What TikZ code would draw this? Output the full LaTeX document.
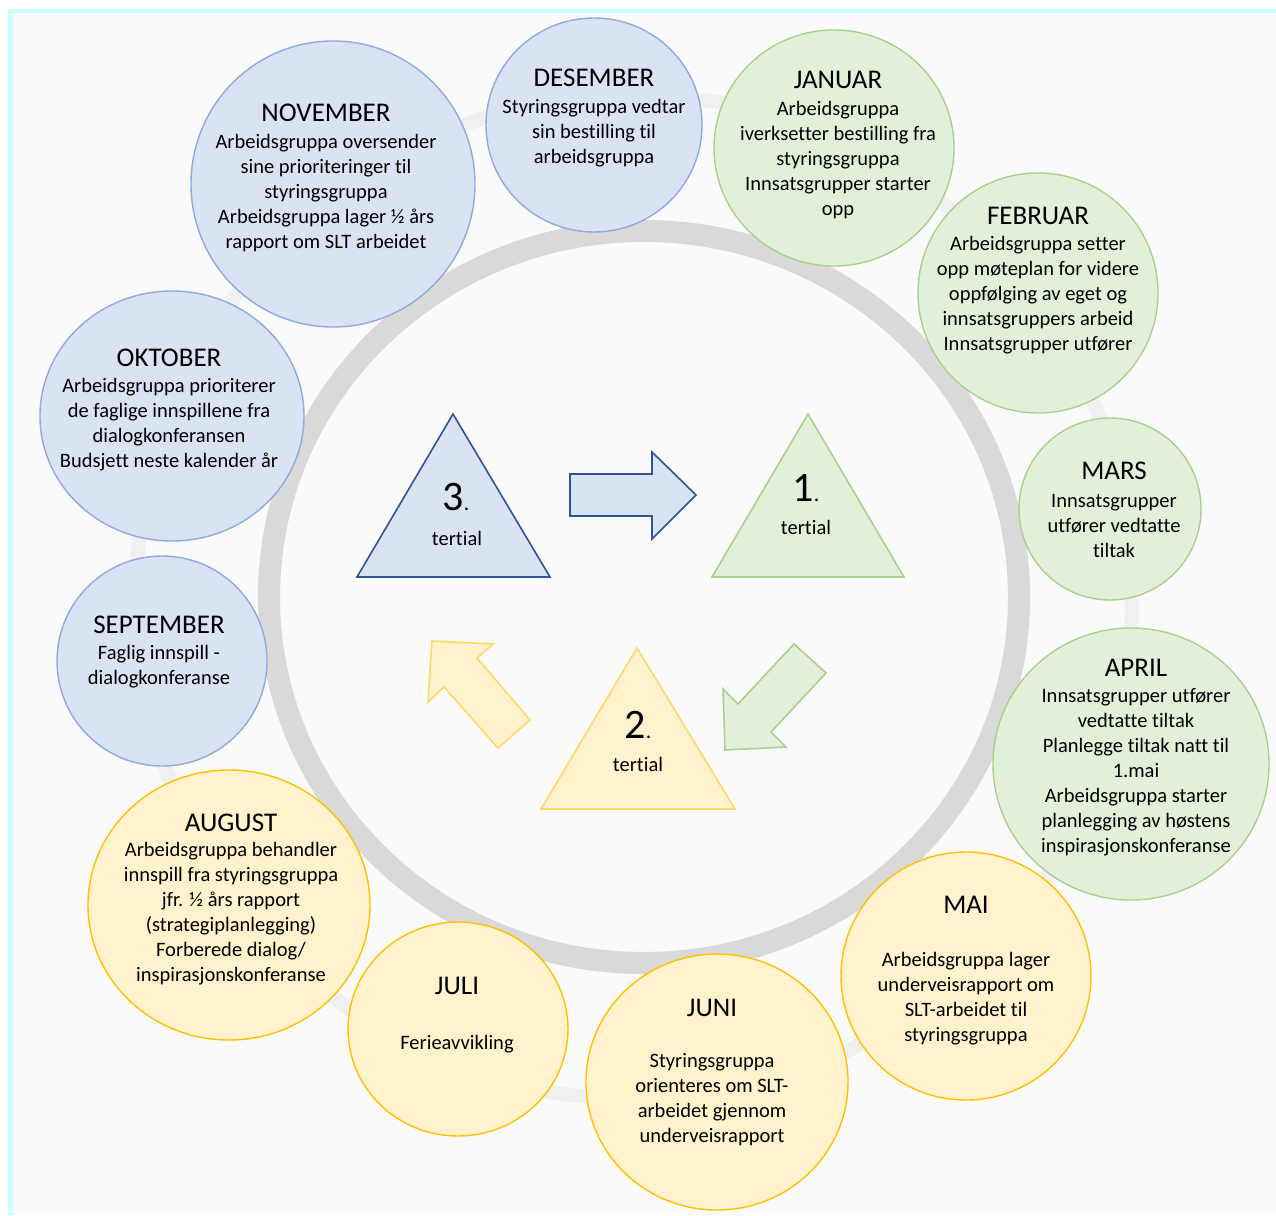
\documentclass[tikz,border=0pt]{standalone}
\usepackage{fontspec}
\setmainfont{Carlito}[Ligatures={NoCommon,NoRare}]
\usetikzlibrary{shapes.geometric}
\definecolor{bfill}{HTML}{DAE3F3}
\definecolor{bline}{HTML}{8FAADC}
\definecolor{bdark}{HTML}{2F5597}
\definecolor{gfill}{HTML}{E2F0D9}
\definecolor{gline}{HTML}{A9D18E}
\definecolor{yfill}{HTML}{FFF2CC}
\definecolor{yline}{HTML}{FFC000}
\definecolor{ylight}{HTML}{FFD966}
\definecolor{ringc}{HTML}{D9D9D9}
\definecolor{faintc}{HTML}{F0F0F0}
\definecolor{bgc}{HTML}{FAFAFA}
\definecolor{framec}{HTML}{CCFFFF}
\begin{document}
\begin{tikzpicture}[x=1pt,y=-1pt,
  month/.style={ellipse, line width=1.4pt, inner sep=0pt},
  mblue/.style={month, fill=bfill, draw=bline},
  mgreen/.style={month, fill=gfill, draw=gline},
  myellow/.style={month, fill=yfill, draw=yline},
  ttl/.style={font=\fontsize{27}{30}\selectfont, inner sep=0pt},
  body/.style={font=\fontsize{20.5}{25}\selectfont, align=center, inner sep=0pt},
  tri/.style={line width=1.6pt, line join=miter},
  blk/.style={line width=1.6pt, line join=miter},
  num/.style={inner sep=0pt},
  terti/.style={font=\fontsize{20.5}{25}\selectfont, inner sep=0pt}
]
\useasboundingbox (0,0) rectangle (1276,1215);
% background and frame
\fill[white] (0,0) rectangle (1276,1215);
\fill[bgc] (8,9) rectangle (1276,1215);
\fill[framec] (8,9) rectangle (1276,13);
\fill[framec] (8,9) rectangle (13,1215);
% rings
\draw[faintc, line width=14pt] (634,597) ellipse [x radius=498pt, y radius=502pt];
\draw[ringc, line width=22pt] (644,597) ellipse [x radius=375pt, y radius=366pt];
% month circles
\node[mblue, minimum width=216pt, minimum height=214pt] (des) at (594,125) {};
\node[mgreen, minimum width=240pt, minimum height=236pt] (jan) at (834,148) {};
\node[mgreen, minimum width=240pt, minimum height=240pt] (feb) at (1038,293) {};
\node[mgreen, minimum width=182pt, minimum height=182pt] (mar) at (1110,509) {};
\node[mgreen, minimum width=276pt, minimum height=272pt] (apr) at (1131,764) {};
\node[myellow, minimum width=250pt, minimum height=248pt] (mai) at (966,976) {};
\node[myellow, minimum width=262pt, minimum height=256pt] (jun) at (717,1082) {};
\node[myellow, minimum width=220pt, minimum height=214pt] (jul) at (458,1029) {};
\node[myellow, minimum width=282pt, minimum height=270pt] (aug) at (229,905) {};
\node[mblue, minimum width=210pt, minimum height=210pt] (sep) at (162,661) {};
\node[mblue, minimum width=264pt, minimum height=250pt] (okt) at (172,416) {};
\node[mblue, minimum width=284pt, minimum height=286pt] (nov) at (333,184) {};
% month texts
\node[ttl] (desT) at (594,78) {DESEMBER};
\node[body] (desB) at (594,133) {Styringsgruppa vedtar\\sin bestilling til\\arbeidsgruppa};
\node[ttl] (janT) at (838,80) {JANUAR};
\node[body] (janB) at (838,160) {Arbeidsgruppa\\iverksetter bestilling fra\\styringsgruppa\\Innsatsgrupper starter\\opp};
\node[ttl] (febT) at (1038,216) {FEBRUAR};
\node[body] (febB) at (1038,295) {Arbeidsgruppa setter\\opp møteplan for videre\\oppfølging av eget og\\innsatsgruppers arbeid\\Innsatsgrupper utfører};
\node[ttl] (marT) at (1114,471) {MARS};
\node[body] (marB) at (1114,526) {Innsatsgrupper\\utfører vedtatte\\tiltak};
\node[ttl] (aprT) at (1136,668) {APRIL};
\node[body] (aprB) at (1136,772.5) {Innsatsgrupper utfører\\vedtatte tiltak\\Planlegge tiltak natt til\\1.mai\\Arbeidsgruppa starter\\planlegging av høstens\\inspirasjonskonferanse};
\node[ttl] (maiT) at (966,905) {MAI};
\node[body] (maiB) at (966,999) {Arbeidsgruppa lager\\underveisrapport om\\SLT-arbeidet til\\styringsgruppa};
\node[ttl] (junT) at (712,1008) {JUNI};
\node[body] (junB) at (712,1100) {Styringsgruppa\\orienteres om SLT-\\arbeidet gjennom\\underveisrapport};
\node[ttl] (julT) at (457,986) {JULI};
\node[body] (julB) at (457,1044) {Ferieavvikling};
\node[ttl] (augT) at (231,823) {AUGUST};
\node[body] (augB) at (231,914) {Arbeidsgruppa behandler\\innspill fra styringsgruppa\\jfr. ½ års rapport\\(strategiplanlegging)\\Forberede dialog/\\inspirasjonskonferanse};
\node[ttl] (sepT) at (159,625) {SEPTEMBER};
\node[body] (sepB) at (159,666.5) {Faglig innspill -\\dialogkonferanse};
\node[ttl] (oktT) at (169,358) {OKTOBER};
\node[body] (oktB) at (169,425) {Arbeidsgruppa prioriterer\\de faglige innspillene fra\\dialogkonferansen\\Budsjett neste kalender år};
\node[ttl] (novT) at (326,113) {NOVEMBER};
\node[body] (novB) at (326,193) {Arbeidsgruppa oversender\\sine prioriteringer til\\styringsgruppa\\Arbeidsgruppa lager ½ års\\rapport om SLT arbeidet};
% triangles
\draw[tri, fill=bfill, draw=bdark] (453,414) -- (550,577) -- (357,577) -- cycle;
\draw[tri, fill=gfill, draw=gline] (808,414) -- (904,577) -- (712,577) -- cycle;
\draw[tri, fill=yfill, draw=ylight] (637,648) -- (735,809) -- (541,809) -- cycle;
% block arrows
\draw[blk, fill=bfill, draw=bdark] (570,474) -- (652,474) -- (652,452) -- (696,495) -- (652,539) -- (652,516) -- (570,516) -- cycle;
\draw[blk, fill=gfill, draw=gline] (794,644) -- (826,673) -- (771,732) -- (786,747) -- (725,750) -- (723,689) -- (738,704) -- cycle;
\draw[blk, fill=yfill, draw=ylight] (432,641) -- (493,644) -- (477,658) -- (530,720) -- (498,748) -- (444,687) -- (428,702) -- cycle;
% triangle labels
\node[num] (n3) at (456,497) {{\fontsize{42}{42}\selectfont 3}{\fontsize{22}{22}\selectfont .}};
\node[terti] (t3) at (457,538) {tertial};
\node[num] (n1) at (806,488) {{\fontsize{42}{42}\selectfont 1}{\fontsize{22}{22}\selectfont .}};
\node[terti] (t1) at (806,527) {tertial};
\node[num] (n2) at (638,725) {{\fontsize{42}{42}\selectfont 2}{\fontsize{22}{22}\selectfont .}};
\node[terti] (t2) at (638,764) {tertial};
\end{tikzpicture}
\end{document}
